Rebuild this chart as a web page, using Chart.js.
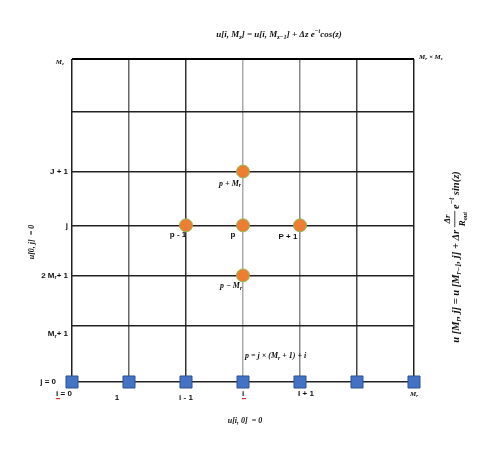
<!DOCTYPE html>
<html>
<head>
<meta charset="utf-8">
<script src="https://cdn.jsdelivr.net/npm/chart.js@4/dist/chart.umd.min.js"></script>
<style>
  html, body { margin: 0; padding: 0; background: #fff; }
  canvas { display: block; }
</style>
</head>
<body>
<canvas id="grid" width="492" height="460"></canvas>
<script>
// grid columns (i) and rows (j) of the mesh
const colTicks = [0, 1, 2, 3, 4, 5, 6];
const rowTicks = [0, 1.04, 1.98, 2.91, 3.91, 5.02, 6];

// boundary nodes along j = 0
const boundaryX = [0, 1, 2, 3, 4, 5, 6];
const boundaryY = [0, 0, 0, 0, 0, 0, 0];

// five-point stencil around p
const stencilX = [3, 2, 3, 4, 3];
const stencilY = [3.91, 2.91, 2.91, 2.91, 1.98];

// axis labels
const rowLabels = [
  { row: 6, parts: [['M', 0], ['z', 1]] },
  { row: 3.91, parts: [['J + 1', 0]], sans: true },
  { row: 2.91, parts: [['j', 0]], sans: true },
  { row: 1.98, parts: [['2 ', 0], ['M', 0], ['r', 1], ['+ 1', 0]], sans: true },
  { row: 1.04, parts: [['M', 0], ['r', 1], ['+ 1', 0]], sans: true, below: true },
  { row: 0, parts: [['j = 0', 0]], sans: true }
];
const colLabels = [
  { col: 0, parts: [['i', 0], [' = 0', 0]], red: true },
  { col: 1, parts: [['1', 0]] },
  { col: 2, parts: [['i - 1', 0]] },
  { col: 3, parts: [['i', 0]], red: true },
  { col: 4, parts: [['I + 1', 0]] },
  { col: 6, parts: [['M', 0], ['r', 1]], math: true }
];
// labels of the stencil points
const pointLabels = [
  { x: 3, y: 3.91, parts: [['p + M', 0], ['r', 1]], dx: -13, dy: 12 },
  { x: 2, y: 2.91, parts: [['p - 1', 0]], dx: -8, dy: 9, sans: true },
  { x: 3, y: 2.91, parts: [['p', 0]], dx: -10, dy: 9, sans: true },
  { x: 4, y: 2.91, parts: [['P + 1', 0]], dx: -12, dy: 11, sans: true },
  { x: 3, y: 1.98, parts: [['p \u2212 M', 0], ['r', 1]], dx: -12, dy: 11 }
];

const gridColX = ['#222', '#666', '#333', '#aaa', '#888', '#444', '#222'];

// draws a run of text pieces: 0 = normal, 1 = subscript, 2 = superscript
function runs(ctx, parts, size, x, y, draw, sans) {
  let cx = x;
  for (const p of parts) {
    if (p.frac) {
      const wn = runs(ctx, p.frac[0], size * 0.85, 0, 0, false, sans);
      const wd = runs(ctx, p.frac[1], size * 0.85, 0, 0, false, sans);
      const w = Math.max(wn, wd) + 2;
      if (draw) {
        runs(ctx, p.frac[0], size * 0.85, cx + (w - wn) / 2, y - size * 0.75, true, sans);
        runs(ctx, p.frac[1], size * 0.85, cx + (w - wd) / 2, y + size * 0.6, true, sans);
        ctx.fillRect(cx, y - size * 0.15, w, 0.8);
      }
      cx += w + 2;
      continue;
    }
    const [t, mode] = p;
    const s = mode ? size * 0.7 : size;
    ctx.font = sans ? `bold ${s}px "Liberation Sans"` : `bold italic ${s}px "Liberation Serif"`;
    const dy = mode === 1 ? size * 0.3 : mode === 2 ? -size * 0.4 : 0;
    if (draw) ctx.fillText(t, cx, y + dy);
    cx += ctx.measureText(t).width;
  }
  return cx - x;
}

function text(ctx, parts, x, y, align, size, sans) {
  const w = runs(ctx, parts, size, 0, 0, false, sans);
  const x0 = align === 'right' ? x - w : align === 'center' ? x - w / 2 : x;
  runs(ctx, parts, size, x0, y, true, sans);
  return x0;
}

const labelPlugin = {
  id: 'labels',
  afterDraw(chart) {
    const ctx = chart.ctx;
    const xs = chart.scales.x, ys = chart.scales.y;
    ctx.save();
    ctx.fillStyle = '#111';
    ctx.textBaseline = 'middle';

    // title equation
    text(ctx, [['u[i, M', 0], ['z', 1], ['] = u[i, M', 0], ['z\u22121', 1], ['] + \u0394z e', 0], ['\u2212t', 2], ['cos(z)', 0]],
      279, 35, 'center', 9);

    // corner labels
    text(ctx, [['M', 0], ['r', 1], [' \u00d7 M', 0], ['z', 1]], xs.right + 5, 57, 'left', 7);

    rowLabels.forEach(l => {
      const y = ys.getPixelForValue(l.row) + (l.below ? 8 : 0) + (l.row === 6 ? 3 : 0);
      const x = l.row === 0 ? xs.left - 16 : l.row === 6 ? xs.left - 8 : xs.left - 4;
      text(ctx, l.parts, x, y, 'right', l.row === 6 ? 7 : 8, l.sans);
    });

    colLabels.forEach(l => {
      const x = xs.getPixelForValue(l.col);
      let y = ys.getPixelForValue(0) + (l.col === 1 || l.col === 2 ? 16 : 12);
      let cx = x;
      if (l.col === 0) cx = x - 8;
      if (l.col === 1) cx = x - 12;
      if (l.col === 4) cx = x + 6;
      const x0 = text(ctx, l.parts, cx, y, 'center', l.math ? 7 : 8, !l.math);
      if (l.red) {
        ctx.fillStyle = '#e03030';
        ctx.fillRect(x0, y + 4, 4, 1.2);
        ctx.fillStyle = '#111';
      }
    });

    pointLabels.forEach(l => {
      const x = xs.getPixelForValue(l.x) + l.dx;
      const y = ys.getPixelForValue(l.y) + l.dy;
      text(ctx, l.parts, x, y, 'center', 8, l.sans);
    });

    // stencil index formula
    text(ctx, [['p = j \u00d7 (M', 0], ['r', 1], [' + 1) + i', 0]], xs.getPixelForValue(3) + 2, 356, 'left', 8);

    // bottom boundary condition
    text(ctx, [['u[i, 0]', 0], ['  = 0', 0]], 245, 421, 'center', 8);

    // left boundary condition (rotated)
    ctx.save();
    ctx.translate(32, 242);
    ctx.rotate(-Math.PI / 2);
    text(ctx, [['u[0, j]', 0], ['  = 0', 0]], 0, 0, 'center', 8);
    ctx.restore();

    // right boundary condition (rotated)
    ctx.save();
    ctx.translate(456, 257);
    ctx.rotate(-Math.PI / 2);
    text(ctx, [['u [M', 0], ['r', 1], [', j] = u [M', 0], ['r\u22121', 1], [', j] + \u0394r ', 0],
      { frac: [[['\u0394r', 0]], [['R', 0], ['out', 1]]] }, ['e', 0], ['\u2212t', 2], [' sin(z)', 0]],
      0, 0, 'center', 10.5);
    ctx.restore();

    ctx.restore();
  }
};

new Chart(document.getElementById('grid'), {
  type: 'scatter',
  data: {
    datasets: [
      {
        data: boundaryX.map((x, k) => ({ x, y: boundaryY[k] })),
        pointStyle: 'rect',
        pointRadius: 8.5,
        backgroundColor: '#4472c4',
        borderColor: '#2f528f',
        borderWidth: 1,
        clip: false
      },
      {
        data: stencilX.map((x, k) => ({ x, y: stencilY[k] })),
        pointStyle: 'circle',
        pointRadius: 6.5,
        backgroundColor: '#ed7d31',
        borderColor: '#8fbc5a',
        borderWidth: 1,
        clip: false
      }
    ]
  },
  options: {
    responsive: false,
    animation: false,
    events: [],
    layout: { padding: { left: 72, right: 78, top: 59, bottom: 78 } },
    plugins: { legend: { display: false }, tooltip: { enabled: false } },
    scales: {
      x: {
        type: 'linear', min: 0, max: 6,
        afterBuildTicks: s => { s.ticks = colTicks.map(v => ({ value: v })); },
        ticks: { display: false },
        border: { display: false },
        grid: {
          drawTicks: false,
          color: c => gridColX[c.index] || '#333',
          lineWidth: 1.5
        }
      },
      y: {
        type: 'linear', min: 0, max: 6,
        afterBuildTicks: s => { s.ticks = rowTicks.map(v => ({ value: v })); },
        ticks: { display: false },
        border: { display: false },
        grid: {
          drawTicks: false,
          color: c => c.index === rowTicks.length - 1 ? '#000' : '#222',
          lineWidth: c => c.index === rowTicks.length - 1 ? 2 : 1.5
        }
      }
    }
  },
  plugins: [labelPlugin]
});
</script>
</body>
</html>
